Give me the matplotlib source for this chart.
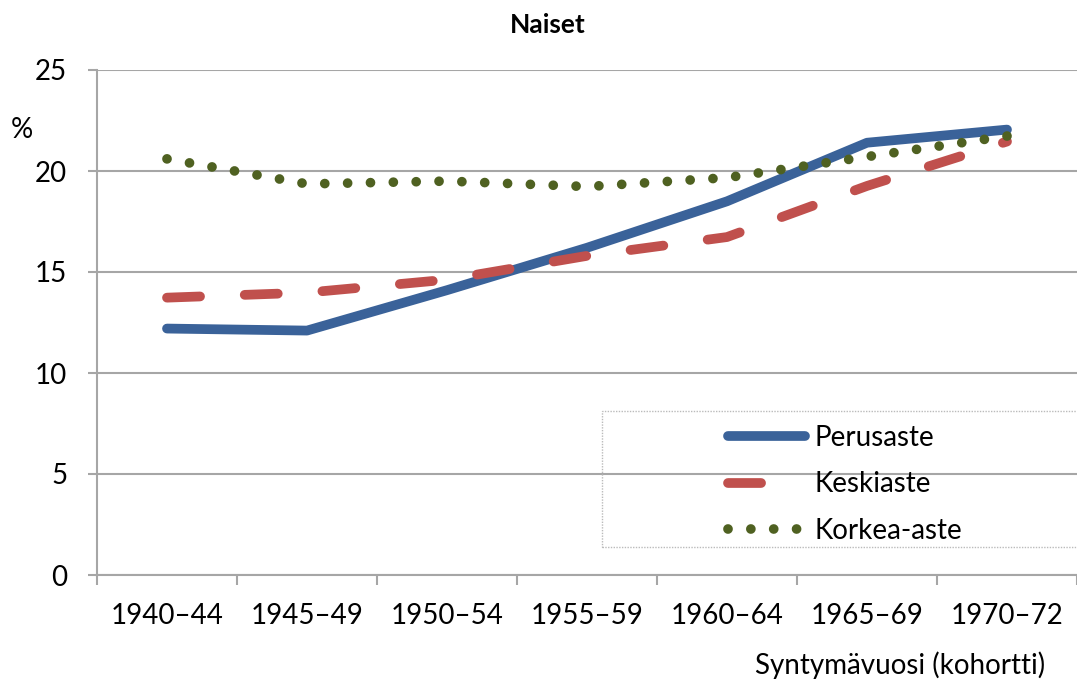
import matplotlib
matplotlib.use("Agg")
import matplotlib.pyplot as plt
from matplotlib.lines import Line2D
from matplotlib.patches import Rectangle

# ---------- Data ----------
COHORTS = ["1940–44", "1945–49", "1950–54", "1955–59", "1960–64", "1965–69", "1970–72"]
PERUSASTE = [12.2, 12.1, 14.1, 16.2, 18.5, 21.4, 22.05]
KESKIASTE = [13.73, 13.98, 14.62, 15.8, 16.73, 19.26, 21.46]
KORKEA_ASTE = [20.6, 19.36, 19.5, 19.23, 19.67, 20.71, 21.73]
SERIES_NAMES = ["Perusaste", "Keskiaste", "Korkea-aste"]
Y_TICKS = [0, 5, 10, 15, 20, 25]

# ---------- Style ----------
W, H = 1077, 689
BLUE = "#3A6299"
RED = "#C0504D"
GREEN = "#4F6121"
GRID = "#A6A6A6"
FONT = "Lato"
FS = 20
LW = 7

plt.rcParams["font.family"] = [FONT, "DejaVu Sans"]

fig = plt.figure(figsize=(W / 100, H / 100), dpi=100)
ax = fig.add_axes([97 / W, 1 - 575 / H, (W - 97) / W, (575 - 70) / H])

x = list(range(len(COHORTS)))

ax.plot(x, PERUSASTE, color=BLUE, lw=LW, solid_capstyle="round",
        solid_joinstyle="round", zorder=3)
ax.plot(x, KESKIASTE, color=RED, lw=LW, dashes=(3.4, 4.6),
        dash_capstyle="round", dash_joinstyle="round", zorder=4)
ax.plot(x, KORKEA_ASTE, color=GREEN, lw=LW, dashes=(0.001, 2.35),
        dash_capstyle="round", zorder=5)

# axes
ax.set_xlim(-0.5, len(COHORTS) - 0.5)
ax.set_ylim(0, 25)
ax.set_yticks(Y_TICKS)
ax.set_yticklabels([str(v) for v in Y_TICKS])
ax.set_xticks([i - 0.5 for i in range(len(COHORTS) + 1)])
ax.set_xticklabels([])
ax.set_xticks(x, minor=True)
ax.set_xticklabels(COHORTS, minor=True)

ax.tick_params(axis="y", length=6.5, width=1.5, color=GRID, pad=15,
               labelsize=FS, direction="out")
ax.tick_params(axis="x", which="major", length=7, width=1.5, color=GRID,
               direction="out")
ax.tick_params(axis="x", which="minor", length=0, pad=20, labelsize=FS)

for s in ["top", "right"]:
    ax.spines[s].set_visible(False)
for s in ["left", "bottom"]:
    ax.spines[s].set_color(GRID)
    ax.spines[s].set_linewidth(1.5)
ax.grid(axis="y", color=GRID, lw=1.5)
ax.set_axisbelow(True)

# texts
fig.text(548 / W, 1 - 25 / H, "Naiset", ha="center", va="center",
         fontsize=19, fontweight="bold")
fig.text(22 / W, 1 - 130 / H, "%", ha="center", va="center", fontsize=FS)
fig.text(1045 / W, 1 - 665 / H, "Syntymävuosi (kohortti)", ha="right",
         va="center", fontsize=FS)

# legend
fig.add_artist(Rectangle((602 / W, 1 - 547 / H), (W + 10 - 602) / W, (547 - 411) / H,
                         transform=fig.transFigure, fill=False, edgecolor="#BBBBBB",
                         linestyle=(0, (1, 1)), lw=1.0, clip_on=False))
handles = [
    Line2D([], [], color=BLUE, lw=LW, solid_capstyle="round"),
    Line2D([], [], color=RED, lw=LW, dashes=(3.4, 20), dash_capstyle="round"),
    Line2D([], [], color=GREEN, lw=LW, dashes=(0.001, 2.35), dash_capstyle="round"),
]
ax.legend(handles, SERIES_NAMES, loc="upper left",
          bbox_to_anchor=(728 / W, 1 - 425 / H), bbox_transform=fig.transFigure,
          frameon=False, borderpad=0, borderaxespad=0, fontsize=FS,
          handlelength=2.77, handletextpad=0.36, labelspacing=0.73)

fig.savefig("out.png", dpi=100)
